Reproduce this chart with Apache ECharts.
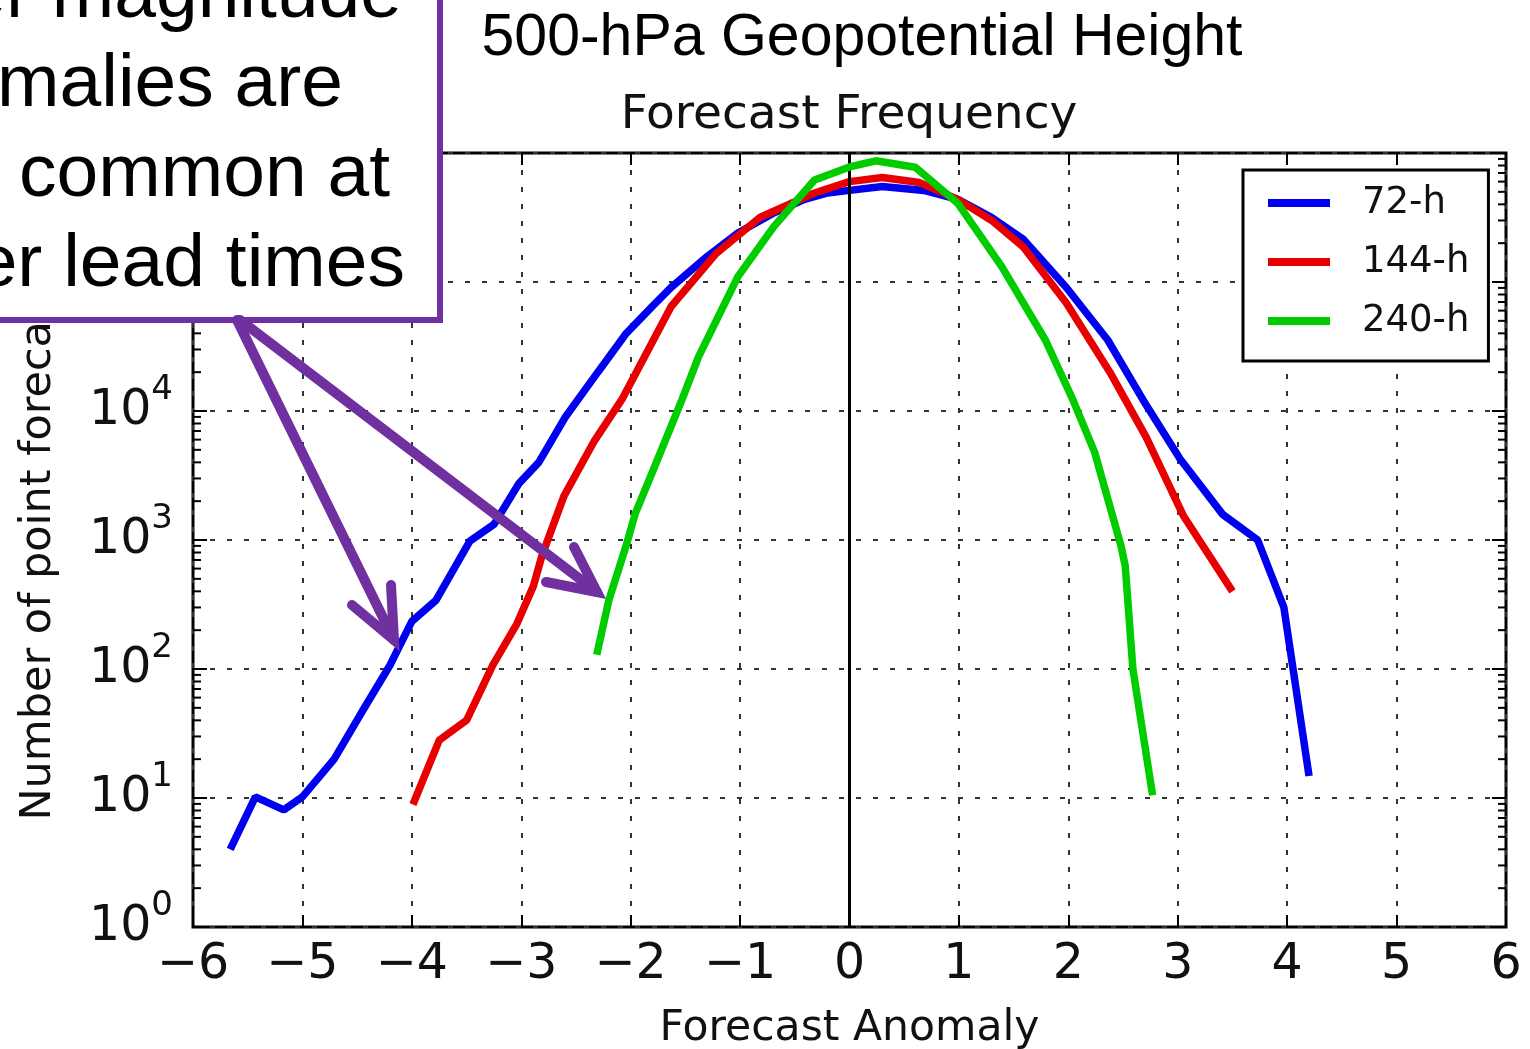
<!DOCTYPE html>
<html>
<head>
<meta charset="utf-8">
<title>500-hPa Geopotential Height - Forecast Frequency</title>
<script src="https://cdn.jsdelivr.net/npm/echarts@6/dist/echarts.min.js"></script>
<style>
  html, body { margin: 0; padding: 0; background: #fff; }
  #chart { width: 1530px; height: 1049px; }
</style>
</head>
<body>
<div id="chart"></div>
<script>
// forecast anomaly bins and counts
const anom72 = [-5.66, -5.43, -5.17, -5.0, -4.71, -4.48, -4.2, -4.0, -3.78, -3.47, -3.25, -3.02, -2.84, -2.6, -2.3, -2.04, -1.8, -1.63, -1.3, -1.02, -0.7, -0.41, -0.2, 0, 0.3, 0.68, 0.99, 1.3, 1.59, 1.98, 2.36, 2.68, 3.02, 3.41, 3.73, 3.97, 4.2]
const count72 = [4, 10.2, 8.1, 10.2, 20, 43, 107, 234, 340, 980, 1320, 2750, 4000, 8900, 20000, 40000, 65000, 91000, 158000, 240000, 340000, 437000, 490000, 513000, 550000, 513000, 437000, 316000, 214000, 91000, 35500, 12300, 4270, 1580, 1000, 300, 14.8]

const anom144 = [-3.99, -3.75, -3.5, -3.26, -3.04, -2.89, -2.81, -2.61, -2.33, -2.08, -1.63, -1.22, -0.82, -0.32, 0, 0.3, 0.64, 0.99, 1.3, 1.59, 1.98, 2.38, 2.71, 3.05, 3.5]
const count144 = [8.9, 28, 40, 107, 224, 437, 760, 2190, 5900, 12300, 64600, 166000, 316000, 490000, 600000, 645000, 590000, 437000, 300000, 186000, 69000, 20000, 6300, 1550, 400]

const anom240 = [-2.31, -2.2, -2.04, -1.96, -1.79, -1.53, -1.38, -1.02, -0.69, -0.32, 0, 0.24, 0.6, 0.99, 1.39, 1.79, 2.04, 2.24, 2.48, 2.52, 2.59, 2.77]
const count240 = [129, 340, 912, 1585, 3550, 12300, 26300, 110000, 270000, 617000, 780000, 870000, 776000, 407000, 132000, 35500, 12300, 4800, 912, 630, 100, 10.5]

const leadTimes = ['72-h', '144-h', '240-h']
const lineColors = ['#0000f0', '#e80000', '#00cc00']

// log minor ticks (2..9 in each decade)
const decades = [1, 10, 100, 1000, 10000, 100000]
const minorMults = [2, 3, 4, 5, 6, 7, 8, 9]

// callout text (box runs off the left/top edge of the picture)
const annotLines = ['Larger magnitude', 'anomalies are', 'more common at', 'longer lead times']
const annotRight = [402, 343, 390, 405]

const pairs = (xs, ys) => xs.map((x, i) => [x, ys[i]])
const minorTicks = []
decades.forEach(d => minorMults.forEach(m => minorTicks.push([-6, m * d])))

const purple = '#7030a0'
const gridDots = { color: '#333', width: 2, type: [5, 12] }
const tickStyle = { color: '#000', width: 2 }

const lineSeries = (i, xs, ys) => ({
  name: leadTimes[i], type: 'line', data: pairs(xs, ys),
  showSymbol: false,
  lineStyle: { width: 7.5, color: lineColors[i] }, itemStyle: { color: lineColors[i] },
  z: 3 + i
})

const option = {
  animation: false,
  backgroundColor: '#fff',
  title: [
    {
      text: '500-hPa Geopotential Height',
      left: 862, top: 9, padding: 0, textAlign: 'center',
      textStyle: { fontFamily: 'Liberation Sans', fontSize: 59, fontWeight: 'normal', color: '#000' }
    },
    {
      text: 'Forecast Frequency',
      left: 849, top: 92, padding: 0, textAlign: 'center',
      textStyle: { fontFamily: 'DejaVu Sans', fontSize: 47, fontWeight: 'normal', color: '#111' }
    }
  ],
  legend: {
    data: leadTimes,
    orient: 'vertical',
    left: 1243, top: 170,
    icon: 'rect',
    itemWidth: 62, itemHeight: 8, itemGap: 19,
    padding: [13, 19, 20, 25],
    borderColor: '#000', borderWidth: 3,
    backgroundColor: '#fff',
    textStyle: { fontFamily: 'DejaVu Sans', fontSize: 37, color: '#111', lineHeight: 40, padding: [0, 0, 0, 27] }
  },
  grid: {
    left: 193, right: 24, top: 153, bottom: 122,
    outerBoundsMode: 'none',
    show: true, borderColor: '#000', borderWidth: 3
  },
  xAxis: [
    {
      type: 'value', min: -6, max: 6, interval: 1,
      name: 'Forecast Anomaly', nameLocation: 'middle', nameGap: 80,
      nameTextStyle: { fontFamily: 'DejaVu Sans', fontSize: 42.5, color: '#111' },
      axisLine: { show: false },
      axisTick: { inside: true, length: 12, lineStyle: tickStyle },
      axisLabel: {
        margin: 14, fontFamily: 'DejaVu Sans', fontSize: 49, color: '#111',
        formatter: v => String(v).replace('-', '\u2212')
      },
      splitLine: { show: true, lineStyle: gridDots }
    },
    {
      type: 'value', min: -6, max: 6, interval: 1, position: 'top',
      axisLine: { show: false },
      axisTick: { inside: true, length: 12, lineStyle: tickStyle },
      axisLabel: { show: false },
      splitLine: { show: false }
    }
  ],
  yAxis: [
    {
      type: 'log', logBase: 10, min: 1, max: 1000000, splitNumber: 6,
      name: 'Number of point forecasts', nameLocation: 'middle', nameGap: 133,
      nameTextStyle: { fontFamily: 'DejaVu Sans', fontSize: 43, color: '#111' },
      axisLine: { show: false, onZero: false },
      axisTick: { inside: true, length: 14, lineStyle: tickStyle },
      axisLabel: {
        margin: 20,
        formatter: v => '{b|10}{s|' + Math.round(Math.log10(v)) + '}',
        rich: {
          b: { fontFamily: 'DejaVu Sans', fontSize: 49, color: '#111', lineHeight: 76, verticalAlign: 'middle' },
          s: { fontFamily: 'DejaVu Sans', fontSize: 34, color: '#111', lineHeight: 34, verticalAlign: 'top' }
        }
      },
      splitLine: { show: true, lineStyle: gridDots }
    },
    {
      type: 'log', logBase: 10, min: 1, max: 1000000, splitNumber: 6, position: 'right',
      axisLine: { show: false, onZero: false },
      axisTick: { inside: true, length: 14, lineStyle: tickStyle },
      axisLabel: { show: false },
      splitLine: { show: false }
    }
  ],
  series: [
    Object.assign(lineSeries(0, anom72, count72), {
      markLine: {
        silent: true, symbol: 'none', label: { show: false },
        lineStyle: { color: '#000', type: 'solid', width: 3 },
        data: [{ xAxis: 0 }]
      }
    }),
    lineSeries(1, anom144, count144),
    lineSeries(2, anom240, count240),
    {
      // minor ticks on the log axes, left and right
      type: 'custom', silent: true, clip: false,
      data: minorTicks,
      renderItem: (params, api) => {
        const l = api.coord([-6, api.value(1)])
        const r = api.coord([6, api.value(1)])
        const st = { stroke: '#000', lineWidth: 2 }
        return {
          type: 'group',
          children: [
            { type: 'line', shape: { x1: l[0], y1: l[1], x2: l[0] + 8, y2: l[1] }, style: st },
            { type: 'line', shape: { x1: r[0], y1: r[1], x2: r[0] - 8, y2: r[1] }, style: st }
          ]
        }
      }
    }
  ],
  graphic: [
    {
      type: 'rect', z: 100,
      shape: { x: -10, y: -10, width: 450, height: 330 },
      style: { fill: '#fff', stroke: purple, lineWidth: 6 }
    },
    ...annotLines.map((t, i) => ({
      type: 'text', z: 101, x: annotRight[i], y: -4 + i * 89.7,
      style: { text: t, fontFamily: 'Liberation Sans', fontSize: 75, fill: '#000', align: 'right', verticalAlign: 'middle' }
    })),
    {
      type: 'polyline', z: 100,
      shape: { points: [[237, 320], [394, 640]] },
      style: { stroke: purple, lineWidth: 10, lineCap: 'round' }
    },
    {
      type: 'polyline', z: 100,
      shape: { points: [[352, 605], [394, 640], [391, 585]] },
      style: { stroke: purple, lineWidth: 10, lineCap: 'round', lineJoin: 'miter', fill: null }
    },
    {
      type: 'polyline', z: 100,
      shape: { points: [[240, 320], [597, 592]] },
      style: { stroke: purple, lineWidth: 10, lineCap: 'round' }
    },
    {
      type: 'polyline', z: 100,
      shape: { points: [[546, 582], [597, 592], [574, 547]] },
      style: { stroke: purple, lineWidth: 10, lineCap: 'round', lineJoin: 'miter', fill: null }
    }
  ]
}

const chart = echarts.init(document.getElementById('chart'))
chart.setOption(option)
</script>
</body>
</html>
